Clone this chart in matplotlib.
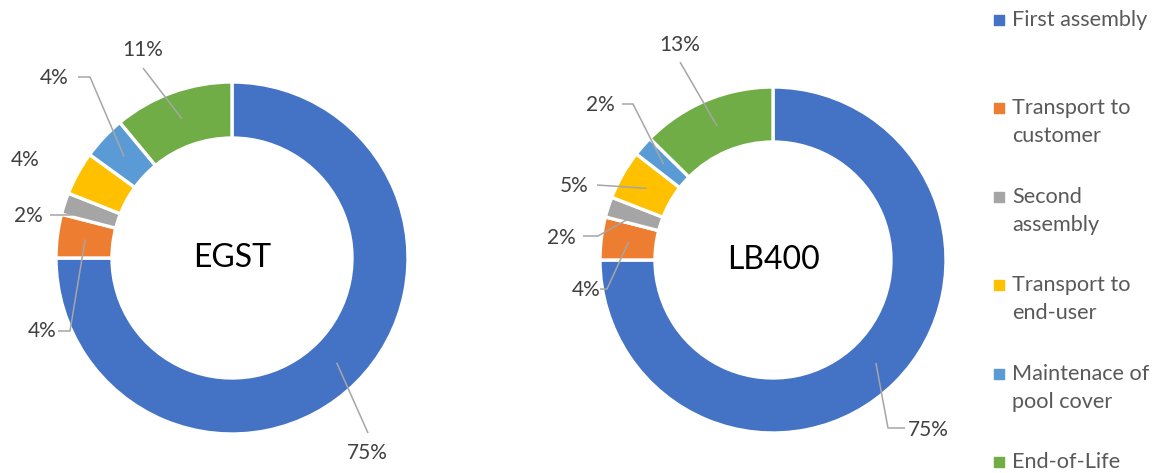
import numpy as np
import matplotlib
matplotlib.use("Agg")
import matplotlib.pyplot as plt

plt.rcParams['font.family'] = ['Lato', 'DejaVu Sans']

categories = ['First assembly', 'Transport to\ncustomer', 'Second\nassembly',
              'Transport to\nend-user', 'Maintenace of\npool cover', 'End-of-Life']
colors = ['#4472C4', '#ED7D31', '#A5A5A5', '#FFC000', '#5B9BD5', '#70AD47']

egst = [75.0, 4.0, 2.0, 4.0, 4.0, 11.0]
lb400 = [75.0, 4.0, 1.9, 4.6, 1.9, 12.6]

W, H = 1162, 473

# label layout in pixels (from top-left): text centre and leader path end points
egst_text = [(367, 453), (42, 331), (28, 216), (25, 160), (54, 78), (143, 50)]
egst_path = [[(368, 433)], [(70, 331), (58, 331)], [(70, 215), (50, 215)],
             None, [(90, 77), (78, 77)], [(143, 68)]]
lb_text = [(928, 430), (586, 290), (561, 238), (574, 186), (600, 105), (680, 45)]
lb_path = [[(888, 428), (905, 428)], [(607, 289), (600, 289)], [(598, 236), (583, 236)],
           [(597, 185)], [(633, 104), (622, 104)], [(680, 62)]]

fig = plt.figure(figsize=(W / 100, H / 100), dpi=100)
ax = fig.add_axes([0, 0, 1, 1])


def donut(vals, cx, cy, r_out, r_in, name, texts, paths):
    cy = H - cy
    wedges, _ = ax.pie(vals, colors=colors, startangle=90, counterclock=False,
                       center=(cx, cy), radius=r_out, frame=True,
                       wedgeprops=dict(width=r_out - r_in, edgecolor='white', linewidth=2.4))
    ax.text(cx, cy, name, ha='center', va='center', fontsize=23, color='black')
    r_mid = (r_out + r_in) / 2
    for w, v, t, p in zip(wedges, vals, texts, paths):
        ang = np.deg2rad((w.theta1 + w.theta2) / 2)
        ax_x = cx + r_mid * np.cos(ang)
        ax_y = cy + r_mid * np.sin(ang)
        if p is not None:
            xs = [ax_x] + [q[0] for q in p]
            ys = [ax_y] + [H - q[1] for q in p]
            ax.plot(xs, ys, color='#A6A6A6', lw=1.1, solid_capstyle='butt')
        ax.text(t[0], H - t[1], f"{v:.0f}%", ha='center', va='center',
                fontsize=15, color='#404040')


donut(egst, 232, 258, 176, 120, 'EGST', egst_text, egst_path)
donut(lb400, 773, 260, 173, 118, 'LB400', lb_text, lb_path)

# legend
for i, (c, lab) in enumerate(zip(colors, categories)):
    y0 = 20 + i * 88.4
    ax.scatter([999], [H - y0], marker='s', s=42, color=c)
    for j, line in enumerate(lab.split('\n')):
        ax.text(1012, H - (y0 + j * 28), line, ha='left', va='center',
                fontsize=15.6, color='#595959')

ax.set_xlim(0, W)
ax.set_ylim(0, H)
ax.set_aspect('auto')
ax.axis('off')
fig.savefig('out.png', dpi=100)
